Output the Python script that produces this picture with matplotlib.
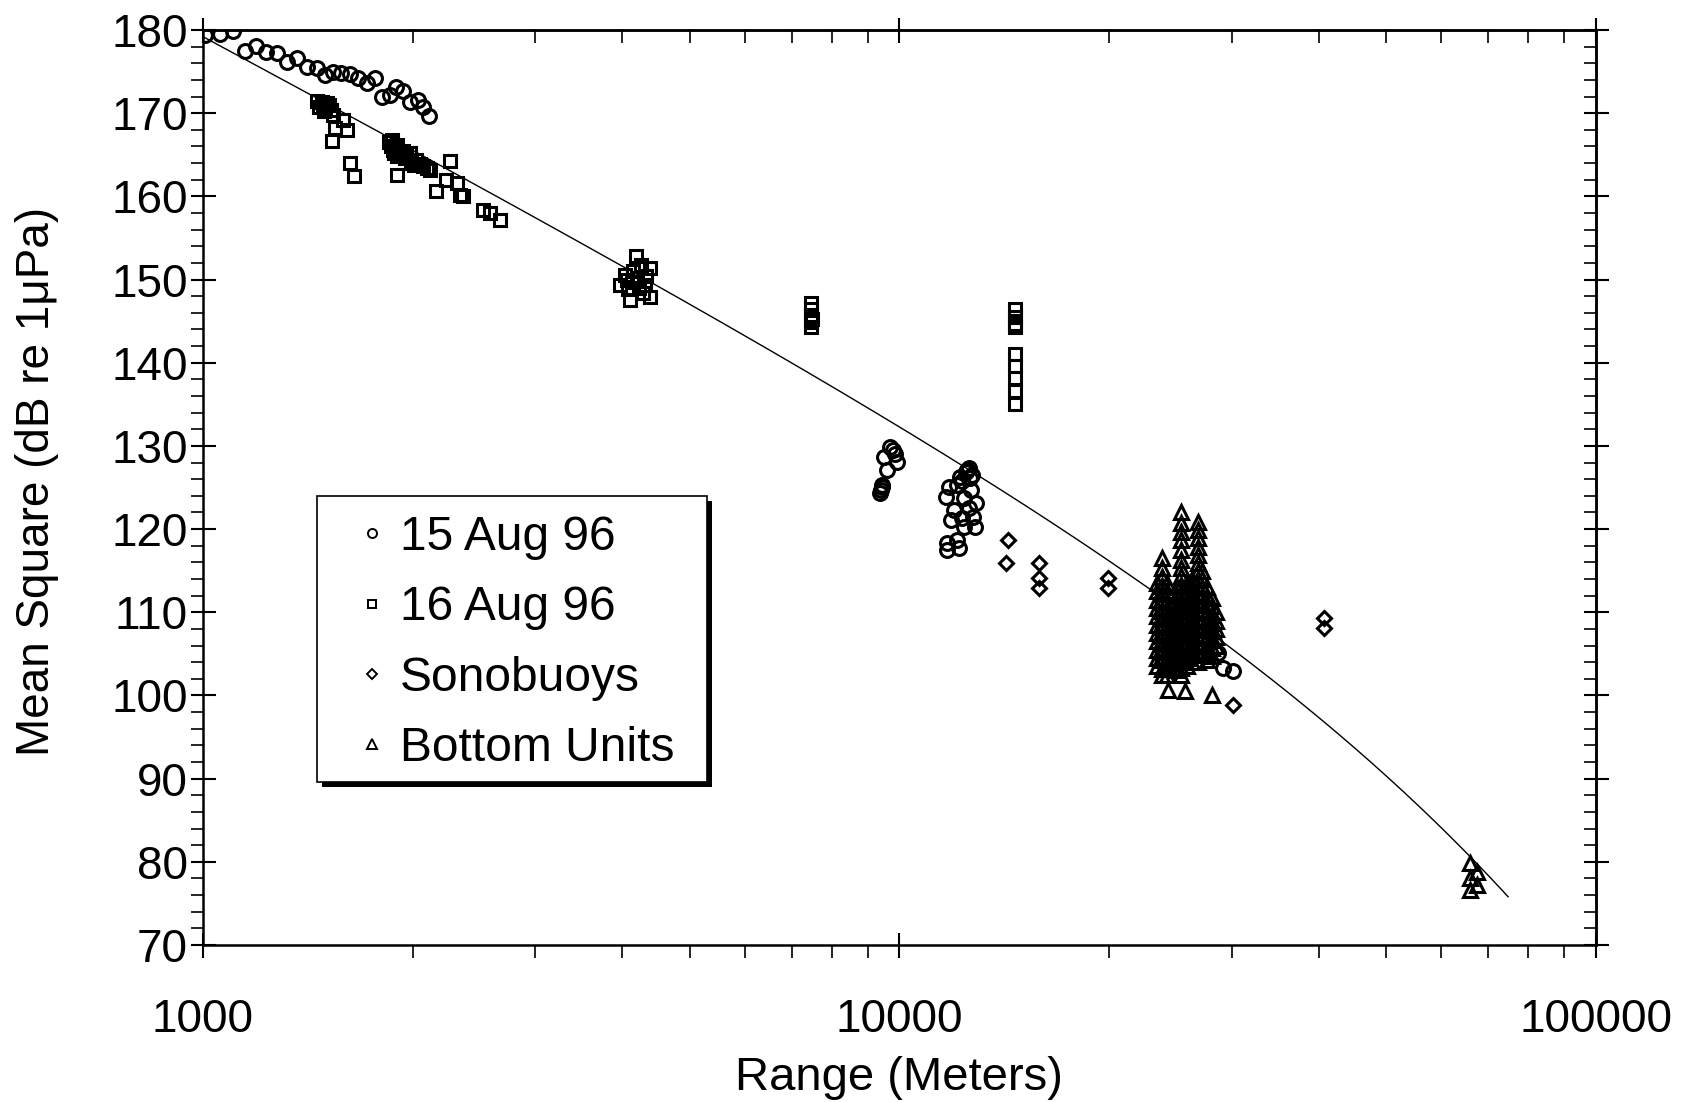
import matplotlib
matplotlib.use("Agg")
import matplotlib.pyplot as plt
import numpy as np
from matplotlib.lines import Line2D
from matplotlib.patches import Rectangle
from matplotlib.ticker import FixedLocator, FixedFormatter, LogLocator, MultipleLocator, NullFormatter

plt.rcParams["font.family"] = ["Liberation Sans", "DejaVu Sans"]

# 15 Aug 96 (circles)
aug15_range = [1007, 1058, 1103, 1149, 1190, 1232, 1278, 1321, 1365, 1409, 1456, 1497,
               1539, 1580, 1626, 1671, 1718, 1765, 1810, 1855, 1892, 1939, 1983, 2038,
               2072, 2113,
               9406, 9380, 9430, 9450, 9788, 9910, 9600, 9500, 9700, 9850,
               12500, 12230, 12630, 11800, 12100, 11650, 12360, 12680, 12890, 11980,
               12570, 11870, 12300, 12750, 12820, 12360, 11700, 12100, 11700, 12170,
               12450, 12600, 12700, 12300,
               28690, 29100, 30150]
aug15_level = [179.4, 179.5, 179.9, 177.5, 178.1, 177.4, 177.2, 176.2, 176.6, 175.6, 175.4, 174.6,
               175.0, 174.8, 174.7, 174.2, 173.6, 174.2, 172.0, 172.2, 173.1, 172.7, 171.4, 171.6,
               170.7, 169.6,
               124.7, 124.3, 125.0, 125.3, 129.5, 128.1, 127.1, 128.7, 129.9, 129.0,
               127.1, 126.3, 126.1, 125.1, 125.3, 123.9, 123.7, 124.7, 123.1, 122.3,
               122.5, 121.1, 121.3, 121.5, 120.3, 120.3, 118.3, 118.7, 117.5, 117.7,
               126.8, 127.3, 126.5, 125.8,
               105.1, 103.3, 102.9]

# 16 Aug 96 (squares)
aug16_range = [1460, 1470, 1480, 1487, 1490, 1495, 1505, 1515, 1525, 1538, 1590, 1609, 1548,
               1530, 1626, 1647,
               1850, 1860, 1870, 1876, 1880, 1897, 1900, 1920, 1950, 1960, 1990, 2010, 2026,
               2072, 2118, 1897, 2264, 2163, 2237, 2313, 2338, 2363, 2525, 2581, 2668,
               1890, 1935, 1980, 2050, 2095,
               4190, 4250, 4380, 4030, 4130, 4310, 4075, 4280, 4100, 4380, 3970, 4200,
               4150, 4230, 4060, 4330,
               7466, 7466, 7466, 7466, 7466, 7500,
               14660, 14660, 14660, 14660, 14660, 14660, 14660, 14660, 14660]
aug16_level = [171.5, 170.8, 171.3, 171.0, 170.2, 170.6, 171.2, 171.0, 170.4, 169.8, 169.2, 168.0,
               168.2, 166.6, 164.0, 162.5,
               166.5, 166.0, 166.8, 165.6, 165.2, 164.8, 166.2, 165.0, 164.6, 164.8, 164.0,
               163.8, 164.4, 163.6, 163.2, 162.6, 164.2, 160.6, 162.0, 161.6, 160.2, 160.0,
               158.4, 158.0, 157.2,
               165.9, 165.4, 165.2, 163.9, 163.4,
               152.8, 151.8, 151.4, 150.6, 149.7, 149.4, 148.8, 148.4, 147.5, 147.9, 149.4, 150.2,
               151.0, 149.0, 149.9, 150.4,
               147.2, 146.4, 145.6, 144.9, 144.3, 145.2,
               146.5, 145.5, 144.6, 144.3, 141.0, 139.6, 138.2, 136.6, 135.0]

# Sonobuoys (diamonds)
sono_range = [14320, 14240, 15870, 15870, 15870, 19940, 19940, 30150, 40690, 40690]
sono_level = [118.7, 115.9, 115.9, 114.1, 112.9, 114.1, 112.9, 98.9, 109.3, 108.1]

# Bottom units (triangles)
bottom_range = [23400] * 11 + [23800] * 15 + [24200] * 12 + [24320] + [24600] * 8 \
    + [25000] * 11 + [25400] * 20 + [25700] + [25850] * 11 + [26300] * 11 \
    + [26800] * 18 + [27200] * 11 + [27600] * 10 + [28100] * 8 + [28150] + [28500] * 5 \
    + [66000] * 3 + [67500] * 2
bottom_level = [113.5, 112.5, 111.5, 110.5, 109.5, 108.5, 107.5, 106.5, 105.5, 104.5, 103.5,
                116.5, 115.3, 114.2, 113.2, 112.2, 111.2, 110.2, 109.2, 108.2, 107.2, 106.2, 105.2,
                104.2, 103.2, 102.4,
                113.5, 112.5, 111.5, 110.5, 109.5, 108.5, 107.5, 106.5, 105.5, 104.5, 103.5, 102.5,
                100.7,
                110.8, 109.8, 108.8, 107.8, 106.8, 105.8, 104.8, 103.8,
                113.0, 112.0, 111.0, 110.0, 109.0, 108.0, 107.0, 106.0, 105.0, 104.0, 103.0,
                122.1, 120.7, 119.7, 118.7, 117.5, 116.3, 115.3, 114.3, 113.3, 112.3, 111.3, 110.3,
                109.3, 108.3, 107.3, 106.3, 105.3, 104.3, 103.3, 102.5,
                100.5,
                113.5, 112.5, 111.5, 110.5, 109.5, 108.5, 107.5, 106.5, 105.5, 104.5, 103.5,
                114.0, 113.0, 112.0, 111.0, 110.0, 109.0, 108.0, 107.0, 106.0, 105.0, 104.0,
                120.9, 119.9, 118.9, 117.9, 116.9, 115.9, 114.9, 113.9, 112.9, 111.9, 110.9, 109.9,
                108.9, 107.9, 106.9, 105.9, 104.9, 104.0,
                115.0, 114.0, 113.0, 112.0, 111.0, 110.0, 109.0, 108.0, 107.0, 106.0, 105.0,
                113.0, 112.0, 111.0, 110.0, 109.0, 108.0, 107.0, 106.0, 105.0, 104.3,
                111.7, 110.7, 109.7, 108.7, 107.7, 106.7, 105.7, 104.7,
                100.1,
                110.0, 109.0, 108.0, 107.0, 106.0,
                79.8, 78.0, 76.6, 78.8, 77.2]

# spreading + absorption fit: TL = SL - k*log10(r/r0) - alpha*(r - r0)
fit_source = 179.2
fit_spreading = 44.48
fit_alpha = 2.717e-4
fit_r0 = 1000.0
fit_rmax = 74800.0

y_ticks = [70, 80, 90, 100, 110, 120, 130, 140, 150, 160, 170, 180]
x_ticks = [1000, 10000, 100000]
x_tick_labels = ["1000", "10000", "100000"]

fig = plt.figure(figsize=(16.84, 11.02), dpi=100)
ax = fig.add_axes([0.1205, 0.1425, 0.8272, 0.8303])
ax.set_xscale("log")

r_fit = np.geomspace(fit_r0, fit_rmax, 400)
tl_fit = fit_source - fit_spreading * np.log10(r_fit / fit_r0) - fit_alpha * (r_fit - fit_r0)
ax.plot(r_fit, tl_fit, color="black", lw=1.0, zorder=1)

mk = dict(ls="none", mfc="none", mec="black", mew=2.2, zorder=2)
ax.plot(aug15_range, aug15_level, marker="o", ms=10, **mk)
ax.plot(aug16_range, aug16_level, marker="s", ms=8.5, **mk)
ax.plot(sono_range, sono_level, marker="D", ms=7.5, **mk)
ax.plot(bottom_range, bottom_level, marker="^", ms=9.5, **mk)

ax.set_xlim(1000, 100000)
ax.set_ylim(70, 180)

ax.xaxis.set_major_locator(FixedLocator(x_ticks))
ax.xaxis.set_major_formatter(FixedFormatter(x_tick_labels))
ax.xaxis.set_minor_locator(LogLocator(base=10, subs=np.arange(2, 10)))
ax.xaxis.set_minor_formatter(NullFormatter())
ax.yaxis.set_major_locator(FixedLocator(y_ticks))
ax.yaxis.set_minor_locator(MultipleLocator(2))

ax.tick_params(which="major", direction="inout", length=18, width=1.5, labelsize=33)
ax.tick_params(which="minor", direction="out", length=9, width=1.2)
ax.tick_params(axis="x", which="major", pad=29)
ax.tick_params(axis="y", which="major", pad=2)

# top and right edges carry inward-facing ticks without labels
top = ax.secondary_xaxis("top")
top.xaxis.set_major_locator(FixedLocator(x_ticks))
top.xaxis.set_minor_locator(LogLocator(base=10, subs=np.arange(2, 10)))
top.xaxis.set_major_formatter(NullFormatter())
top.xaxis.set_minor_formatter(NullFormatter())
top.tick_params(which="major", direction="inout", length=18, width=1.5)
top.tick_params(which="minor", direction="in", length=9, width=1.2)

right = ax.secondary_yaxis("right")
right.yaxis.set_major_locator(FixedLocator(y_ticks))
right.yaxis.set_minor_locator(MultipleLocator(2))
right.yaxis.set_major_formatter(NullFormatter())
right.tick_params(which="major", direction="inout", length=18, width=1.5)
right.tick_params(which="minor", direction="in", length=9, width=1.2)

for a in (ax, top, right):
    for sp in a.spines.values():
        sp.set_linewidth(1.8)

ax.set_xlabel("Range (Meters)", fontsize=34, labelpad=10)
ax.set_ylabel("Mean Square (dB re 1\u03bcPa)", fontsize=33)
ax.yaxis.set_label_coords(-0.103, 0.507)

# legend box with a solid drop shadow
box_x, box_y, box_w, box_h = 0.0818, 0.1781, 0.280, 0.3126
ax.add_patch(Rectangle((box_x + 0.0036, box_y - 0.0055), box_w, box_h, transform=ax.transAxes,
                       facecolor="black", edgecolor="none", zorder=4, clip_on=False))
ax.add_patch(Rectangle((box_x, box_y), box_w, box_h, transform=ax.transAxes,
                       facecolor="white", edgecolor="black", lw=1.2, zorder=4.5, clip_on=False))

handles = [
    Line2D([], [], marker="o", ls="none", mfc="none", mec="black", ms=6.5, mew=1.4),
    Line2D([], [], marker="s", ls="none", mfc="none", mec="black", ms=6, mew=1.4),
    Line2D([], [], marker="D", ls="none", mfc="none", mec="black", ms=5.5, mew=1.4),
    Line2D([], [], marker="^", ls="none", mfc="none", mec="black", ms=6.5, mew=1.4),
]
labels = ["15 Aug 96", "16 Aug 96", "Sonobuoys", "Bottom Units"]
leg = ax.legend(handles, labels, loc="upper left", bbox_to_anchor=(0.1041, 0.470),
                borderaxespad=0, borderpad=0, fontsize=34.5, frameon=False,
                handlelength=1.0, handletextpad=0.09, labelspacing=0.53)
leg.set_zorder(5)

fig.savefig("out.png", dpi=100)
